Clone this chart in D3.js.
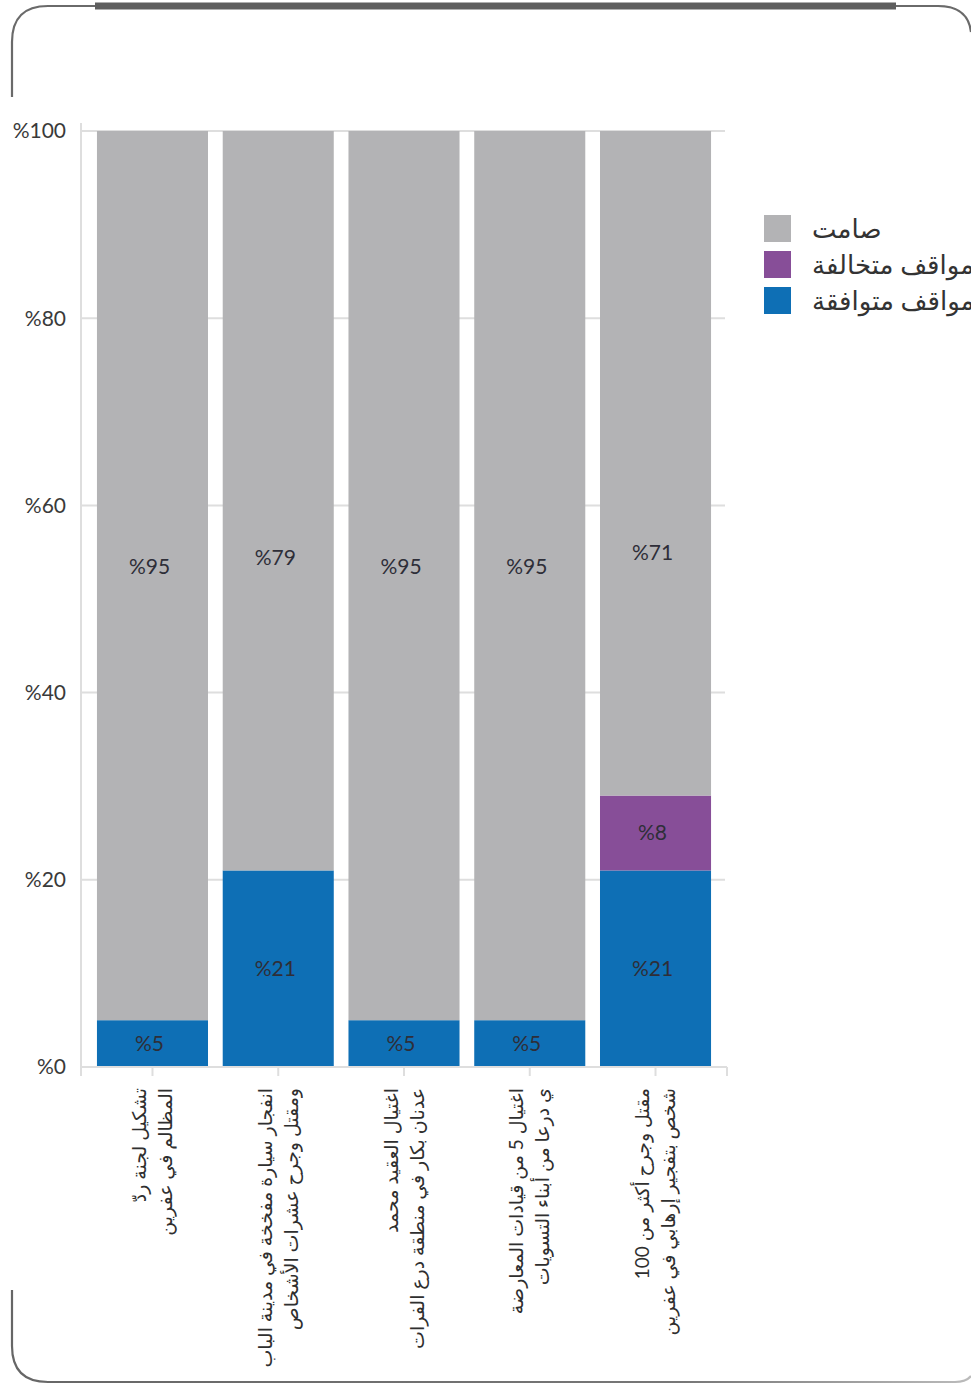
<!DOCTYPE html>
<html lang="ar">
<head>
<meta charset="utf-8">
<script src="https://cdn.jsdelivr.net/npm/d3@7"></script>
<style>
  html, body { margin: 0; padding: 0; background: #fff; }
  svg { display: block; }
  text { font-family: Lato, "DejaVu Sans", sans-serif; }
</style>
</head>
<body>
<svg id="chart" width="971" height="1385"></svg>
<script>
// Category labels, each split into two lines
const categories = [
  ["تشكيل لجنة ردّ", "المظالم في عفرين"],
  ["انفجار سيارة مفخخة في مدينة الباب", "ومقتل وجرح عشرات الأشخاص"],
  ["اغتيال العقيد محمد", "عدنان بكار في منطقة درع الفرات"],
  ["اغتيال 5 من قيادات المعارضة", "ي درعا من أبناء التسويات"],
  ["مقتل وجرح أكثر من 100", "شخص بتفجير إرهابي في عفرين"]
];
const agreeing = [5, 21, 5, 5, 21];     // مواقف متوافقة
const opposing = [0, 0, 0, 0, 8];       // مواقف متخالفة
const silent = [95, 79, 95, 95, 71];    // صامت
const seriesNames = ["مواقف متوافقة", "مواقف متخالفة", "صامت"];
const seriesKeys = ["agree", "oppose", "silent"];
const yTicks = [0, 20, 40, 60, 80, 100];

const colors = { agree: "#0e6fb5", oppose: "#874e98", silent: "#b3b3b5" };

const rows = categories.map((c, i) => ({
  i, agree: agreeing[i], oppose: opposing[i], silent: silent[i]
}));

const svg = d3.select("#chart");

// Rounded frame around the figure
const frame = svg.append("g").attr("fill", "none");
frame.append("path")
  .attr("d", "M12,97 L12,42 Q12,6 48,6 L938,6 Q968,6 971,32")
  .attr("stroke", "#6a6a6a").attr("stroke-width", 2.2);
frame.append("line")
  .attr("x1", 95).attr("x2", 896).attr("y1", 6).attr("y2", 6)
  .attr("stroke", "#5e5e5e").attr("stroke-width", 7);
const grad = svg.append("defs").append("linearGradient").attr("id", "bottomFade");
grad.append("stop").attr("offset", "0%").attr("stop-color", "#666");
grad.append("stop").attr("offset", "70%").attr("stop-color", "#777");
grad.append("stop").attr("offset", "100%").attr("stop-color", "#bbb");
frame.append("path")
  .attr("d", "M12,1290 L12,1346 Q12,1382 48,1382 L955,1382 Q966,1382 971,1376")
  .attr("stroke", "url(#bottomFade)").attr("stroke-width", 2.2);

// Scales
const y = d3.scaleLinear().domain([0, 100]).range([1067, 131]);
const x = d3.scaleBand()
  .domain(rows.map(r => r.i))
  .range([89.6, 718.4])
  .paddingInner(0.117)
  .paddingOuter(0.0585);

const axisLeft = 81, axisRight = 727;

// Gridlines
svg.append("g").selectAll("line").data(yTicks).join("line")
  .attr("x1", axisLeft).attr("x2", 725)
  .attr("y1", d => y(d)).attr("y2", d => y(d))
  .attr("stroke", "#dedede").attr("stroke-width", 2);

// Y axis line
svg.append("line")
  .attr("x1", axisLeft).attr("x2", axisLeft)
  .attr("y1", y(100) - 8).attr("y2", y(0))
  .attr("stroke", "#dedede").attr("stroke-width", 2);

// Y tick labels
svg.append("g").selectAll("text").data(yTicks).join("text")
  .attr("x", 66).attr("y", d => y(d))
  .attr("dy", "0.35em")
  .attr("text-anchor", "end")
  .attr("direction", "ltr")
  .attr("font-size", 21)
  .attr("fill", "#3a3a3a")
  .text(d => "%" + d);

// Stacked bars
const stack = d3.stack().keys(seriesKeys);
const stacked = stack(rows);

const layers = svg.append("g").selectAll("g").data(stacked).join("g")
  .attr("fill", d => colors[d.key]);
layers.selectAll("rect").data(d => d.filter(s => s[1] - s[0] > 0)).join("rect")
  .attr("x", d => x(d.data.i))
  .attr("width", x.bandwidth())
  .attr("y", d => y(d[1]))
  .attr("height", d => y(d[0]) - y(d[1]));

// X axis line and ticks
svg.append("line")
  .attr("x1", axisLeft).attr("x2", axisRight)
  .attr("y1", y(0)).attr("y2", y(0))
  .attr("stroke", "#dedede").attr("stroke-width", 2);
const tickXs = [axisLeft, ...rows.map(r => x(r.i) + x.bandwidth() / 2), axisRight];
svg.append("g").selectAll("line").data(tickXs).join("line")
  .attr("x1", d => d).attr("x2", d => d)
  .attr("y1", y(0)).attr("y2", y(0) + 9)
  .attr("stroke", "#dedede").attr("stroke-width", 2);

// Value labels inside segments
const labelData = [];
stacked.forEach(layer => {
  layer.forEach(s => {
    const v = s[1] - s[0];
    if (v <= 0) return;
    // the silent share is labelled near the middle of the full bar
    const pos = layer.key === "silent" ? 53.2 + s[0] * 0.06 : (s[0] + s[1]) / 2;
    labelData.push({ i: s.data.i, v, pos });
  });
});
svg.append("g").selectAll("text").data(labelData).join("text")
  .attr("x", d => x(d.i) + x.bandwidth() / 2 - 3)
  .attr("y", d => y(d.pos))
  .attr("dy", "0.35em")
  .attr("text-anchor", "middle")
  .attr("direction", "ltr")
  .attr("font-size", 21)
  .attr("fill", "#2e2e38")
  .text(d => "%" + d.v);

// Rotated two-line category labels
const catG = svg.append("g").selectAll("g").data(rows).join("g")
  .attr("transform", d => `translate(${x(d.i) + x.bandwidth() / 2},1088) rotate(-90)`);
catG.selectAll("text").data(d => categories[d.i].map((t, k) => ({ t, k }))).join("text")
  .attr("x", 0)
  .attr("y", d => (d.k === 0 ? -13 : 13))
  .attr("dy", "0.35em")
  .attr("text-anchor", "end")
  .attr("font-size", 19)
  .attr("fill", "#2f2f2f")
  .text(d => d.t);

// Legend (top to bottom: silent, opposing, agreeing)
const legendOrder = [2, 1, 0];
const legend = svg.append("g").selectAll("g").data(legendOrder).join("g")
  .attr("transform", (d, k) => `translate(764,${215 + k * 36})`);
legend.append("rect")
  .attr("width", 27).attr("height", 27)
  .attr("fill", d => colors[seriesKeys[d]]);
legend.append("text")
  .attr("x", 48).attr("y", 14)
  .attr("dy", "0.35em")
  .attr("text-anchor", "start")
  .attr("font-size", 26)
  .attr("fill", "#333")
  .text(d => seriesNames[d]);
</script>
</body>
</html>
